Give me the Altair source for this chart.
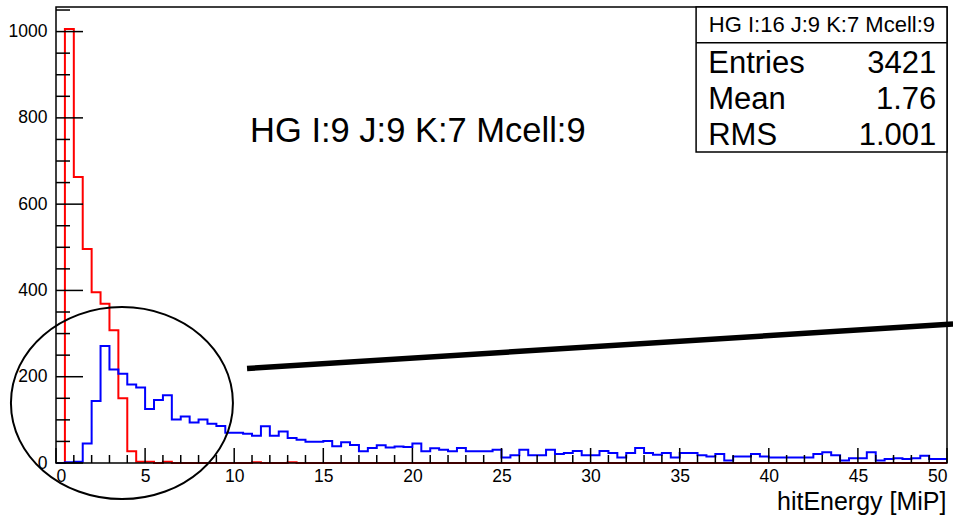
import altair as alt
import pandas as pd

FONT = "Liberation Sans"

# ---- data -------------------------------------------------------------
bin_width = 0.5
x_min, x_max = 0, 50
y_max = 1057

red_counts = [0, 1006, 663, 496, 396, 369, 308, 150, 27, 3,
              3, 0, 3, 0, 0, 0, 0, 0, 0, 0,
              0, 0, 2, 0, 0, 0, 2, 0, 0, 0,
              0, 0, 0, 0, 0, 0, 0, 0, 0, 0,
              0, 0, 0, 0, 0, 0, 0, 0, 0, 0,
              0, 0, 0, 0, 0, 0, 0, 0, 0, 0,
              0, 0, 0, 0, 0, 0, 0, 0, 0, 0,
              0, 0, 0, 0, 0, 0, 0, 0, 0, 0,
              0, 0, 0, 0, 0, 0, 0, 0, 0, 0,
              0, 0, 0, 0, 0, 0, 0, 0, 0, 0]

blue_counts = [0, 2, 3, 45, 144, 271, 217, 207, 182, 175,
               125, 146, 157, 101, 108, 94, 101, 91, 86, 70,
               70, 68, 63, 85, 63, 73, 58, 54, 49, 49,
               51, 39, 48, 42, 27, 35, 41, 36, 38, 37,
               45, 27, 34, 31, 27, 35, 27, 27, 27, 31,
               13, 18, 31, 18, 18, 31, 21, 23, 28, 18,
               18, 28, 23, 13, 23, 35, 23, 19, 23, 13,
               23, 23, 18, 15, 21, 6, 15, 15, 21, 15,
               13, 13, 13, 13, 13, 21, 25, 18, 6, 11,
               11, 25, 6, 9, 11, 9, 11, 17, 9, 9]

x_major = [0, 5, 10, 15, 20, 25, 30, 35, 40, 45, 50]
x_minor = [v for v in range(0, 51) if v % 5 != 0]
y_major = [0, 200, 400, 600, 800, 1000]
y_minor = [v for v in range(0, 1051, 50) if v % 200 != 0]

title_text = "HG I:9 J:9 K:7 Mcell:9"
stats_header = "HG I:16 J:9 K:7 Mcell:9"
stats_names = ["Entries", "Mean", "RMS"]
stats_values = ["3421", "1.76", "1.001"]
x_title = "hitEnergy [MiP]"

# annotation anchors (in data units)
ellipse_center = (3.70, 139)
pointer_x = [10.72, 50.34]
pointer_y = [219, 322]
title_pos = (10.89, 745)
box_x = (35.92, 50)
box_y = (721, y_max)
box_divider_y = 974
header_pos = (42.98, 1015)
stats_name_x = 36.6
stats_value_x = 49.4
stats_rows_y = [904, 821, 737]

# ---- frames -----------------------------------------------------------
edges = [i * bin_width for i in range(len(blue_counts) + 1)]
hist = pd.DataFrame({
    "x": edges + edges,
    "count": blue_counts + [blue_counts[-1]] + red_counts + [red_counts[-1]],
    "series": ["blue"] * len(edges) + ["red"] * len(edges),
})

xs = alt.Scale(domain=[x_min, x_max], nice=False, zero=False)
ys = alt.Scale(domain=[0, y_max], nice=False, zero=False)

W, H = 891, 456

AX = alt.Axis(
    values=x_major, ticks=False, domain=False, grid=False, format="d",
    labelFont=FONT, labelFontSize=17.5, labelColor="black", labelPadding=4,
    labelFlush=5, labelOverlap=False,
    title=x_title, titleFont=FONT, titleFontSize=25, titleFontWeight="normal",
    titleColor="black", titleAlign="right", titleBaseline="alphabetic",
    titleX=W - 1, titleY=46)
AY = alt.Axis(
    values=y_major, ticks=False, domain=False, grid=False, format="d",
    labelFont=FONT, labelFontSize=17.5, labelColor="black", labelPadding=9,
    labelOverlap=False, labelFlush=False, title="")


def hline(series, color):
    return alt.Chart(hist[hist.series == series]).mark_line(
        interpolate="step-after", color=color, strokeWidth=2
    ).encode(
        x=alt.X("x:Q", scale=xs, axis=AX),
        y=alt.Y("count:Q", scale=ys, axis=AY),
    )

blue = hline("blue", "#0000ff")
red = hline("red", "#ff0000")


def xticks(vals, length):
    return alt.Chart(pd.DataFrame({"t": vals})).mark_rule(
        color="black", strokeWidth=1.5, y2Offset=-length
    ).encode(
        x=alt.X("t:Q", scale=xs, axis=AX),
        y=alt.YDatum(0, scale=ys, axis=AY),
        y2=alt.Y2Datum(0),
    )


def yticks(vals, length):
    return alt.Chart(pd.DataFrame({"t": vals})).mark_rule(
        color="black", strokeWidth=1.5, x2Offset=length
    ).encode(
        y=alt.Y("t:Q", scale=ys, axis=AY),
        x=alt.XDatum(0, scale=xs, axis=AX),
        x2=alt.X2Datum(0),
    )

one = pd.DataFrame({"a": [0]})

frame = alt.Chart(one).mark_rect(fillOpacity=0, stroke="black", strokeWidth=1.5).encode(
    x=alt.XDatum(x_min, scale=xs, axis=AX), x2=alt.X2Datum(x_max),
    y=alt.YDatum(0, scale=ys, axis=AY), y2=alt.Y2Datum(y_max),
)

k, r = 0.5523, 0.865
ell_path = (f"M 1 0 C 1 {k*r:.4f} {k} {r} 0 {r} C {-k} {r} -1 {k*r:.4f} -1 0 "
            f"C -1 {-k*r:.4f} {-k} {-r} 0 {-r} C {k} {-r} 1 {-k*r:.4f} 1 0 Z")
ellipse = alt.Chart(one).mark_point(
    shape=ell_path, size=222 * 222, filled=False, stroke="black",
    strokeWidth=2, opacity=1
).encode(
    x=alt.XDatum(ellipse_center[0], scale=xs, axis=AX),
    y=alt.YDatum(ellipse_center[1], scale=ys, axis=AY),
)

pointer = alt.Chart(pd.DataFrame({"x": pointer_x, "y": pointer_y})).mark_line(
    color="black", strokeWidth=5.5, strokeCap="butt", clip=False
).encode(
    x=alt.X("x:Q", scale=xs, axis=AX),
    y=alt.Y("y:Q", scale=ys, axis=AY),
)

title = alt.Chart(one).mark_text(
    text=title_text, font=FONT, fontSize=34.5, align="left", baseline="alphabetic", color="black"
).encode(
    x=alt.XDatum(title_pos[0], scale=xs, axis=AX),
    y=alt.YDatum(title_pos[1], scale=ys, axis=AY),
)

box = alt.Chart(one).mark_rect(fill="white", stroke="black", strokeWidth=1.5).encode(
    x=alt.XDatum(box_x[0], scale=xs, axis=AX), x2=alt.X2Datum(box_x[1]),
    y=alt.YDatum(box_y[0], scale=ys, axis=AY), y2=alt.Y2Datum(box_y[1]),
)
divider = alt.Chart(one).mark_rule(color="black", strokeWidth=1.5).encode(
    x=alt.XDatum(box_x[0], scale=xs, axis=AX), x2=alt.X2Datum(box_x[1]),
    y=alt.YDatum(box_divider_y, scale=ys, axis=AY),
)
header = alt.Chart(one).mark_text(
    text=stats_header, font=FONT, fontSize=22, align="center", baseline="middle", color="black"
).encode(
    x=alt.XDatum(header_pos[0], scale=xs, axis=AX),
    y=alt.YDatum(header_pos[1], scale=ys, axis=AY),
)
stats_df = pd.DataFrame({"name": stats_names, "val": stats_values, "y": stats_rows_y})
names = alt.Chart(stats_df).mark_text(
    font=FONT, fontSize=31, align="left", baseline="alphabetic", color="black"
).encode(
    x=alt.XDatum(stats_name_x, scale=xs, axis=AX),
    y=alt.Y("y:Q", scale=ys, axis=AY),
    text="name:N",
)
vals = alt.Chart(stats_df).mark_text(
    font=FONT, fontSize=31, align="right", baseline="alphabetic", color="black"
).encode(
    x=alt.XDatum(stats_value_x, scale=xs, axis=AX),
    y=alt.Y("y:Q", scale=ys, axis=AY),
    text="val:N",
)

chart = alt.layer(
    red, blue,
    xticks(x_major, 15), xticks(x_minor, 8),
    yticks(y_major, 27), yticks(y_minor, 14),
    frame, ellipse, pointer, title,
    box, divider, header, names, vals,
).properties(
    width=W, height=H,
    padding={"left": 56, "top": 7, "right": 6, "bottom": 52},
    autosize=alt.AutoSizeParams(type="none"),
    background="white",
).configure_view(stroke=None)

chart.save("out.html", embed_options={"renderer": "svg", "actions": False})
